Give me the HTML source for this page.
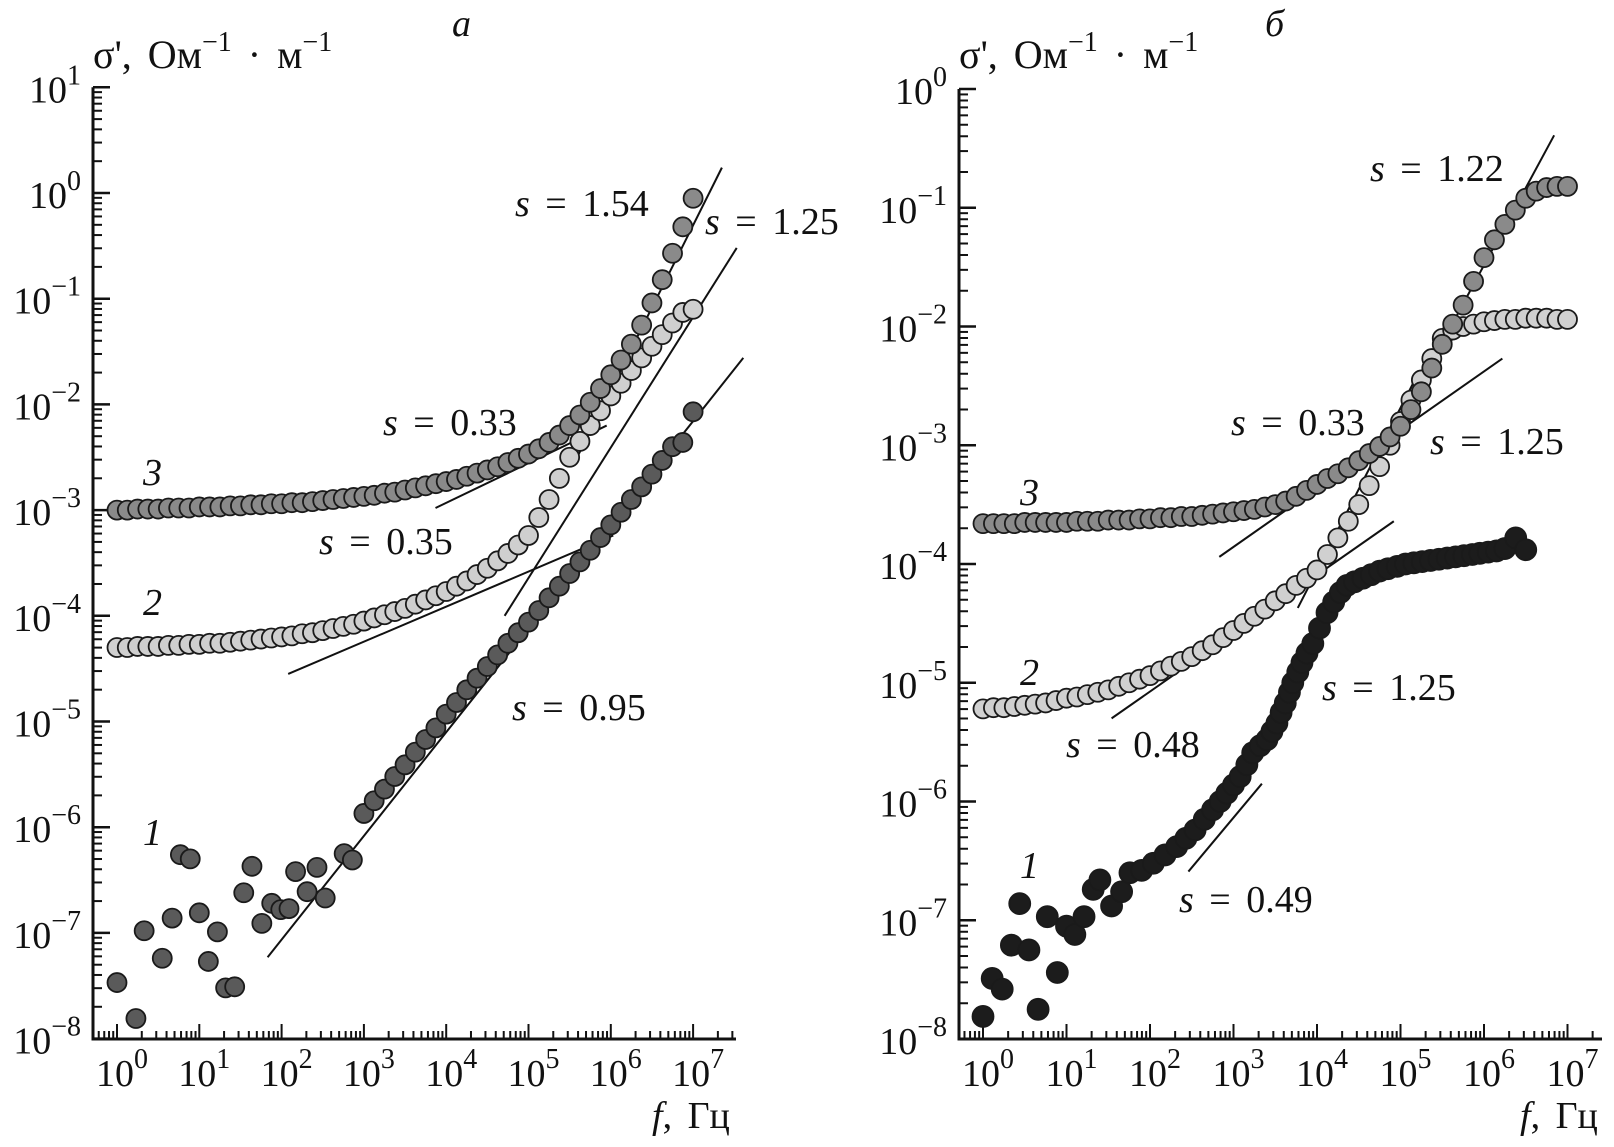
<!DOCTYPE html>
<html><head><meta charset="utf-8"><style>
html,body{margin:0;padding:0;background:#fff;}
svg{display:block;font-family:"Liberation Serif",serif;}
</style></head><body>
<svg id="chart" width="1614" height="1147" viewBox="0 0 1614 1147" xmlns="http://www.w3.org/2000/svg">
<g id="pa"></g>
<g id="pb"></g>
</svg>
<script>
// ---- shared frequency grid (log10 f) ----
const F57 = [0,0.125,0.25,0.375,0.5,0.625,0.75,0.875,1,1.125,1.25,1.375,1.5,1.625,1.75,1.875,2,2.125,2.25,2.375,2.5,2.625,2.75,2.875,3,3.125,3.25,3.375,3.5,3.625,3.75,3.875,4,4.125,4.25,4.375,4.5,4.625,4.75,4.875,5,5.125,5.25,5.375,5.5,5.625,5.75,5.875,6,6.125,6.25,6.375,6.5,6.625,6.75,6.875,7];

// ---- panel a data (log10 sigma) ----
const aC3 = [-3.00,-3.00,-2.99,-2.99,-2.99,-2.98,-2.98,-2.98,-2.97,-2.97,-2.97,-2.96,-2.96,-2.95,-2.95,-2.94,-2.94,-2.93,-2.93,-2.92,-2.91,-2.90,-2.89,-2.88,-2.87,-2.86,-2.84,-2.83,-2.81,-2.79,-2.77,-2.75,-2.73,-2.71,-2.68,-2.65,-2.62,-2.59,-2.55,-2.51,-2.47,-2.42,-2.36,-2.29,-2.20,-2.10,-1.98,-1.85,-1.72,-1.58,-1.43,-1.25,-1.04,-0.82,-0.57,-0.32,-0.05];
const aC2 = [-4.30,-4.30,-4.29,-4.29,-4.29,-4.28,-4.28,-4.27,-4.27,-4.26,-4.26,-4.25,-4.24,-4.23,-4.22,-4.21,-4.20,-4.19,-4.17,-4.16,-4.14,-4.12,-4.10,-4.08,-4.05,-4.02,-3.99,-3.96,-3.93,-3.89,-3.85,-3.81,-3.77,-3.72,-3.67,-3.61,-3.55,-3.48,-3.41,-3.33,-3.24,-3.07,-2.90,-2.70,-2.50,-2.35,-2.20,-2.06,-1.92,-1.80,-1.68,-1.56,-1.45,-1.34,-1.23,-1.13,-1.10];
const aC1F = [0,0.23,0.33,0.55,0.67,0.77,0.89,1.0,1.11,1.22,1.32,1.43,1.54,1.64,1.76,1.88,1.99,2.09,2.17,2.31,2.43,2.53,2.76,2.86,3,3.125,3.25,3.375,3.5,3.625,3.75,3.875,4,4.125,4.25,4.375,4.5,4.625,4.75,4.875,5,5.125,5.25,5.375,5.5,5.625,5.75,5.875,6,6.125,6.25,6.375,6.5,6.625,6.75,6.875,7];
const aC1 = [-7.47,-7.81,-6.98,-7.24,-6.86,-6.26,-6.30,-6.81,-7.27,-6.99,-7.52,-7.51,-6.62,-6.37,-6.91,-6.72,-6.78,-6.77,-6.42,-6.61,-6.38,-6.67,-6.25,-6.31,-5.87,-5.75,-5.64,-5.52,-5.41,-5.29,-5.17,-5.06,-4.93,-4.82,-4.70,-4.59,-4.48,-4.37,-4.26,-4.16,-4.06,-3.95,-3.83,-3.72,-3.60,-3.49,-3.38,-3.26,-3.14,-3.02,-2.90,-2.78,-2.66,-2.53,-2.40,-2.36,-2.07];
// fit lines [f1,s1,f2,s2]
const aFits = [[1.83,-7.23,7.61,-1.56],[5.54,-2.58,7.35,0.24],[4.71,-4.0,7.53,-0.52],[3.87,-2.98,5.95,-2.20],[2.08,-4.55,6.03,-3.24]];

// ---- panel b data ----
const bC3 = [-3.66,-3.66,-3.66,-3.66,-3.65,-3.65,-3.65,-3.65,-3.65,-3.64,-3.64,-3.64,-3.63,-3.63,-3.63,-3.62,-3.62,-3.61,-3.61,-3.60,-3.60,-3.59,-3.58,-3.57,-3.56,-3.55,-3.54,-3.52,-3.50,-3.47,-3.43,-3.38,-3.33,-3.28,-3.24,-3.19,-3.13,-3.07,-3.01,-2.93,-2.84,-2.70,-2.55,-2.35,-2.15,-1.98,-1.82,-1.62,-1.42,-1.27,-1.14,-1.02,-0.92,-0.86,-0.83,-0.82,-0.82];
const bC2 = [-5.22,-5.21,-5.21,-5.20,-5.19,-5.18,-5.17,-5.15,-5.13,-5.12,-5.10,-5.08,-5.06,-5.03,-5.00,-4.97,-4.94,-4.90,-4.86,-4.82,-4.78,-4.73,-4.68,-4.62,-4.56,-4.50,-4.44,-4.38,-4.31,-4.25,-4.18,-4.12,-4.05,-3.92,-3.78,-3.64,-3.50,-3.34,-3.18,-3.00,-2.80,-2.62,-2.45,-2.27,-2.10,-2.03,-2.00,-1.98,-1.96,-1.95,-1.94,-1.94,-1.93,-1.93,-1.93,-1.94,-1.94];
const bC1F = [0,0.11,0.23,0.34,0.44,0.55,0.66,0.77,0.89,1.0,1.1,1.21,1.32,1.4,1.54,1.66,1.76,1.9,2.04,2.18,2.32,2.43,2.54,2.65,2.75,2.84,2.92,3.0,3.08,3.16,3.23,3.32,3.4,3.46,3.52,3.57,3.62,3.67,3.71,3.77,3.82,3.88,3.95,4.03,4.12,4.2,4.28,4.36,4.45,4.55,4.65,4.75,4.85,4.96,5.06,5.16,5.26,5.36,5.46,5.56,5.66,5.76,5.86,5.95,6.05,6.15,6.25,6.38,6.5];
const bC1 = [-7.81,-7.49,-7.58,-7.21,-6.86,-7.25,-7.75,-6.97,-7.44,-7.05,-7.12,-6.97,-6.74,-6.66,-6.88,-6.76,-6.60,-6.58,-6.52,-6.45,-6.38,-6.31,-6.24,-6.15,-6.07,-6.00,-5.93,-5.86,-5.79,-5.69,-5.59,-5.53,-5.48,-5.41,-5.34,-5.25,-5.17,-5.08,-5.00,-4.91,-4.83,-4.75,-4.67,-4.54,-4.41,-4.32,-4.24,-4.18,-4.15,-4.12,-4.09,-4.06,-4.04,-4.02,-4.00,-3.99,-3.98,-3.97,-3.96,-3.95,-3.94,-3.93,-3.92,-3.91,-3.90,-3.89,-3.87,-3.78,-3.88];
const bFits = [[5.25,-2.46,6.84,-0.39],[2.83,-3.94,6.22,-2.27],[3.77,-4.37,5.23,-2.37],[1.54,-5.30,4.92,-3.64],[2.46,-6.59,3.34,-5.85]];

const NS = "http://www.w3.org/2000/svg";
function mk(parent, tag, attrs){const e=document.createElementNS(NS,tag);for(const k in attrs)e.setAttribute(k,attrs[k]);parent.appendChild(e);return e;}

const A = {g:document.getElementById('pa'), x0:117, dx:82.3, y0:193, dy:105.7, axX:93, axY:1039, xEnd:736, kMin:-8, kMax:1};
const B = {g:document.getElementById('pb'), x0:983, dx:83.5, y0:89, dy:118.75, axX:959, axY:1039, xEnd:1602, kMin:-8, kMax:0};
function sx(P,f){return P.x0+P.dx*f;}
function sy(P,s){return P.y0-P.dy*s;}

function axes(P){
  const g=P.g;
  const yTopPx=sy(P,P.kMax);
  const ax=mk(g,'path',{d:`M${P.axX},${yTopPx} L${P.axX},${P.axY} L${P.xEnd},${P.axY}`,stroke:'#111','stroke-width':3,fill:'none'});
  
  
  for(let k=P.kMin;k<=P.kMax;k++){
    const y=sy(P,k);
    const t=mk(g,'line',{x1:P.axX,x2:P.axX+17,y1:y,y2:y,stroke:'#111','stroke-width':2.5});
    
    
    const tx=mk(g,'text',{x:P.axX-12,y:y+15,'font-size':38,'text-anchor':'end',fill:'#111'});
    
    
    const a=mk(tx,'tspan',{});a.textContent='10';
    const b=mk(tx,'tspan',{dy:-18,'font-size':28});b.textContent=(k<0?'\u2212':'')+Math.abs(k);
    if(k<P.kMax){for(let m=2;m<=9;m++){const ym=sy(P,k+Math.log10(m));
      const mt=mk(g,'line',{x1:P.axX,x2:P.axX+9,y1:ym,y2:ym,stroke:'#111','stroke-width':2});
      
      }}
  }
  for(let k=-1;k<=7;k++){
    for(let m=1;m<=9;m++){
      const x=sx(P,k+Math.log10(m));
      if(x<=P.axX+2||x>P.xEnd)continue;
      const L=(m===1)?15:8;
      const t=mk(g,'line',{x1:x,x2:x,y1:P.axY,y2:P.axY-L,stroke:'#111','stroke-width':2});
      
      
    }
    if(k>=0){
      const tx=mk(g,'text',{x:sx(P,k)+5,y:P.axY+47,'font-size':38,'text-anchor':'middle',fill:'#111'});
      
      
      const a=mk(tx,'tspan',{});a.textContent='10';
      const b=mk(tx,'tspan',{dy:-18,'font-size':28});b.textContent=String(k);
    }
  }
}
function series(P,fs,vs,fill,r,name){
  const g=mk(P.g,'g',{});
  
  
  const n=Math.min(fs.length,vs.length);
  for(let i=0;i<n;i++){
    const c=mk(g,'circle',{cx:sx(P,fs[i]),cy:sy(P,vs[i]),r:r,fill:fill,stroke:'#1a1a1a','stroke-width':1.8});
    
    
  }
}
function fits(P,arr){
  arr.forEach(l=>{
    const e=mk(P.g,'line',{x1:sx(P,l[0]),y1:sy(P,l[1]),x2:sx(P,l[2]),y2:sy(P,l[3]),stroke:'#111','stroke-width':2});
    
    
  });
}
function label(P,x,y,html,name,size){
  const t=mk(P.g,'text',{x:x,y:y,'font-size':size||38,fill:'#111','word-spacing':6});
  
  
  t.innerHTML=html;
}

axes(A); axes(B);
fits(A,aFits); fits(B,bFits);
series(A,aC1F,aC1,'#5a5a5a',9.5,'series-1-a');
series(A,F57,aC2,'#cfcfcf',9.5,'series-2-a');
series(A,F57,aC3,'#8a8a8a',9.5,'series-3-a');
series(B,bC1F,bC1,'#1c1c1c',10.5,'series-1-b');
series(B,F57,bC2,'#d0d0d0',9.5,'series-2-b');
series(B,F57,bC3,'#8a8a8a',9.5,'series-3-b');

const sup='<tspan dy="-17" font-size="28">\u22121</tspan>';
const yt=`\u03c3', \u041e\u043c${sup}<tspan dy="17"> \u00b7 \u043c</tspan>${sup}`;
label(A,93,68,yt,'y-axis-title',40);
label(B,959,68,yt,'y-axis-title',40);
label(A,452,36,'<tspan font-style="italic">а</tspan>','panel-a-title');
label(B,1265,36,'<tspan font-style="italic">б</tspan>','panel-b-title');
label(A,652,1128,'<tspan font-style="italic">f</tspan>, Гц','x-axis-title');
label(B,1520,1128,'<tspan font-style="italic">f</tspan>, Гц','x-axis-title');
const it=(n)=>`<tspan font-style="italic">${n}</tspan>`;
label(A,143,485,it('3'),'curve-label-3');
label(A,143,615,it('2'),'curve-label-2');
label(A,143,845,it('1'),'curve-label-1');
label(B,1020,505,it('3'),'curve-label-3');
label(B,1020,685,it('2'),'curve-label-2');
label(B,1020,878,it('1'),'curve-label-1');
const s=(v)=>`<tspan font-style="italic">s</tspan> = ${v}`;
label(A,515,216,s('1.54'),'slope-label');
label(A,705,234,s('1.25'),'slope-label');
label(A,383,435,s('0.33'),'slope-label');
label(A,319,554,s('0.35'),'slope-label');
label(A,512,720,s('0.95'),'slope-label');
label(B,1370,181,s('1.22'),'slope-label');
label(B,1231,435,s('0.33'),'slope-label');
label(B,1430,454,s('1.25'),'slope-label');
label(B,1322,700,s('1.25'),'slope-label');
label(B,1066,757,s('0.48'),'slope-label');
label(B,1179,912,s('0.49'),'slope-label');
</script>
</body></html>
